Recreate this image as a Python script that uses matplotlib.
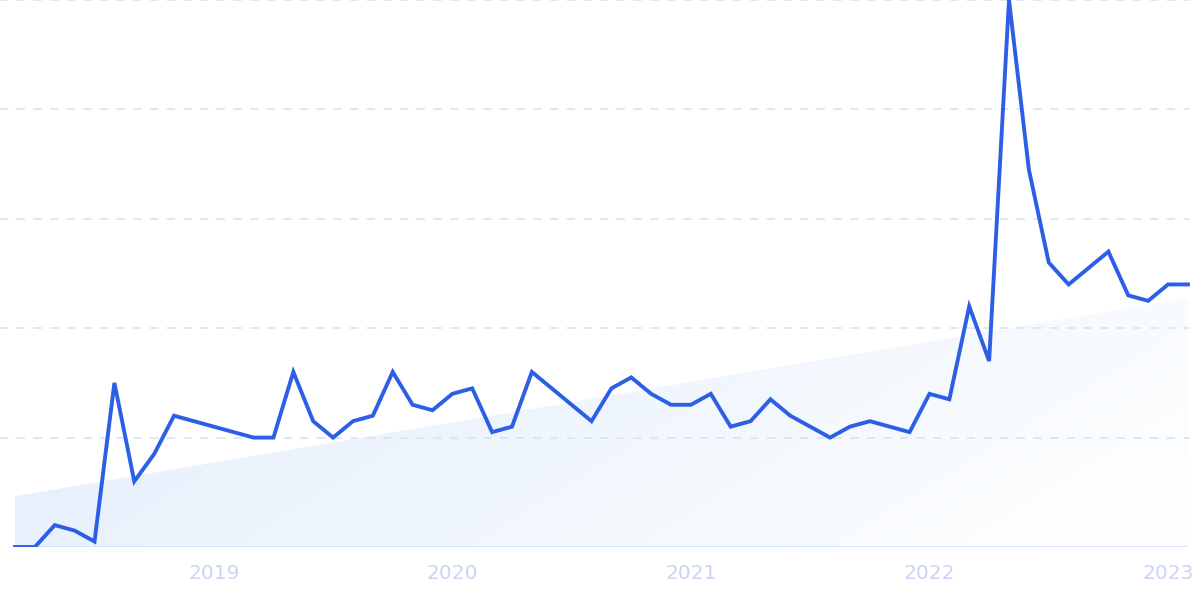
import numpy as np
import matplotlib
matplotlib.use("Agg")
from matplotlib import pyplot as plt

# Monthly search interest, Mar 2018 - Feb 2023
months = np.arange(60)
interest = [0, 0, 4, 3, 1, 30, 12, 17, 24, 23,
            22, 21, 20, 20, 32, 23, 20, 23, 24, 32,
            26, 25, 28, 29, 21, 22, 32, 29, 26, 23,
            29, 31, 28, 26, 26, 28, 22, 23, 27, 24,
            22, 20, 22, 23, 22, 21, 28, 27, 44, 34,
            100, 69, 52, 48, 51, 54, 46, 45, 48, 48]
trend_ends = [9.3, 45.5]  # trend line start / end value
year_ticks = [10, 22, 34, 46, 58]
year_labels = ["2019", "2020", "2021", "2022", "2023"]

fig = plt.figure(figsize=(12, 6), dpi=100)
ax = fig.add_axes([0, 53 / 600, 1190 / 1200, 547 / 600])

step = 19.88
ax.set_xlim(-15 / step, (1190 - 15) / step)
ax.set_ylim(0, 100)

#Gradient-filled trend area
trend = np.linspace(trend_ends[0], trend_ends[1], len(months))
poly = ax.fill_between(months, 0, trend, color="none", lw=0)
gx, gy = np.meshgrid(np.linspace(0, 1, 200), np.linspace(0, 1, 100))
t = np.clip(0.8 * gx + 0.3 * gy, 0, 1)
c0 = np.array([224, 236, 251]) / 255
c1 = np.array([253, 254, 255]) / 255
img = c0 + (c1 - c0) * t[..., None]
im = ax.imshow(img, extent=[months[0], months[-1], 0, 50], origin="upper",
               aspect="auto", zorder=1)
im.set_clip_path(poly.get_paths()[0], transform=ax.transData)

#Grid lines and baseline
for g in [20, 40, 60, 80, 100]:
    ax.axhline(g, color="#d3e5fa", lw=1.2, ls=(0, (5, 5)), zorder=2)
ax.hlines(0, months[0], months[-1], color="#d3e0f8", lw=1.3, zorder=2)

ax.plot(months, interest, color="#2d5fe6", lw=2.8, solid_joinstyle="miter",
        zorder=3)

ax.set_xticks(year_ticks)
ax.set_xticklabels(year_labels, color="#c8d5f5", fontsize=14.5)
ax.tick_params(axis="x", length=0, pad=12)
ax.set_yticks([])
for s in ax.spines.values():
    s.set_visible(False)

plt.savefig("out.png", dpi=100)
